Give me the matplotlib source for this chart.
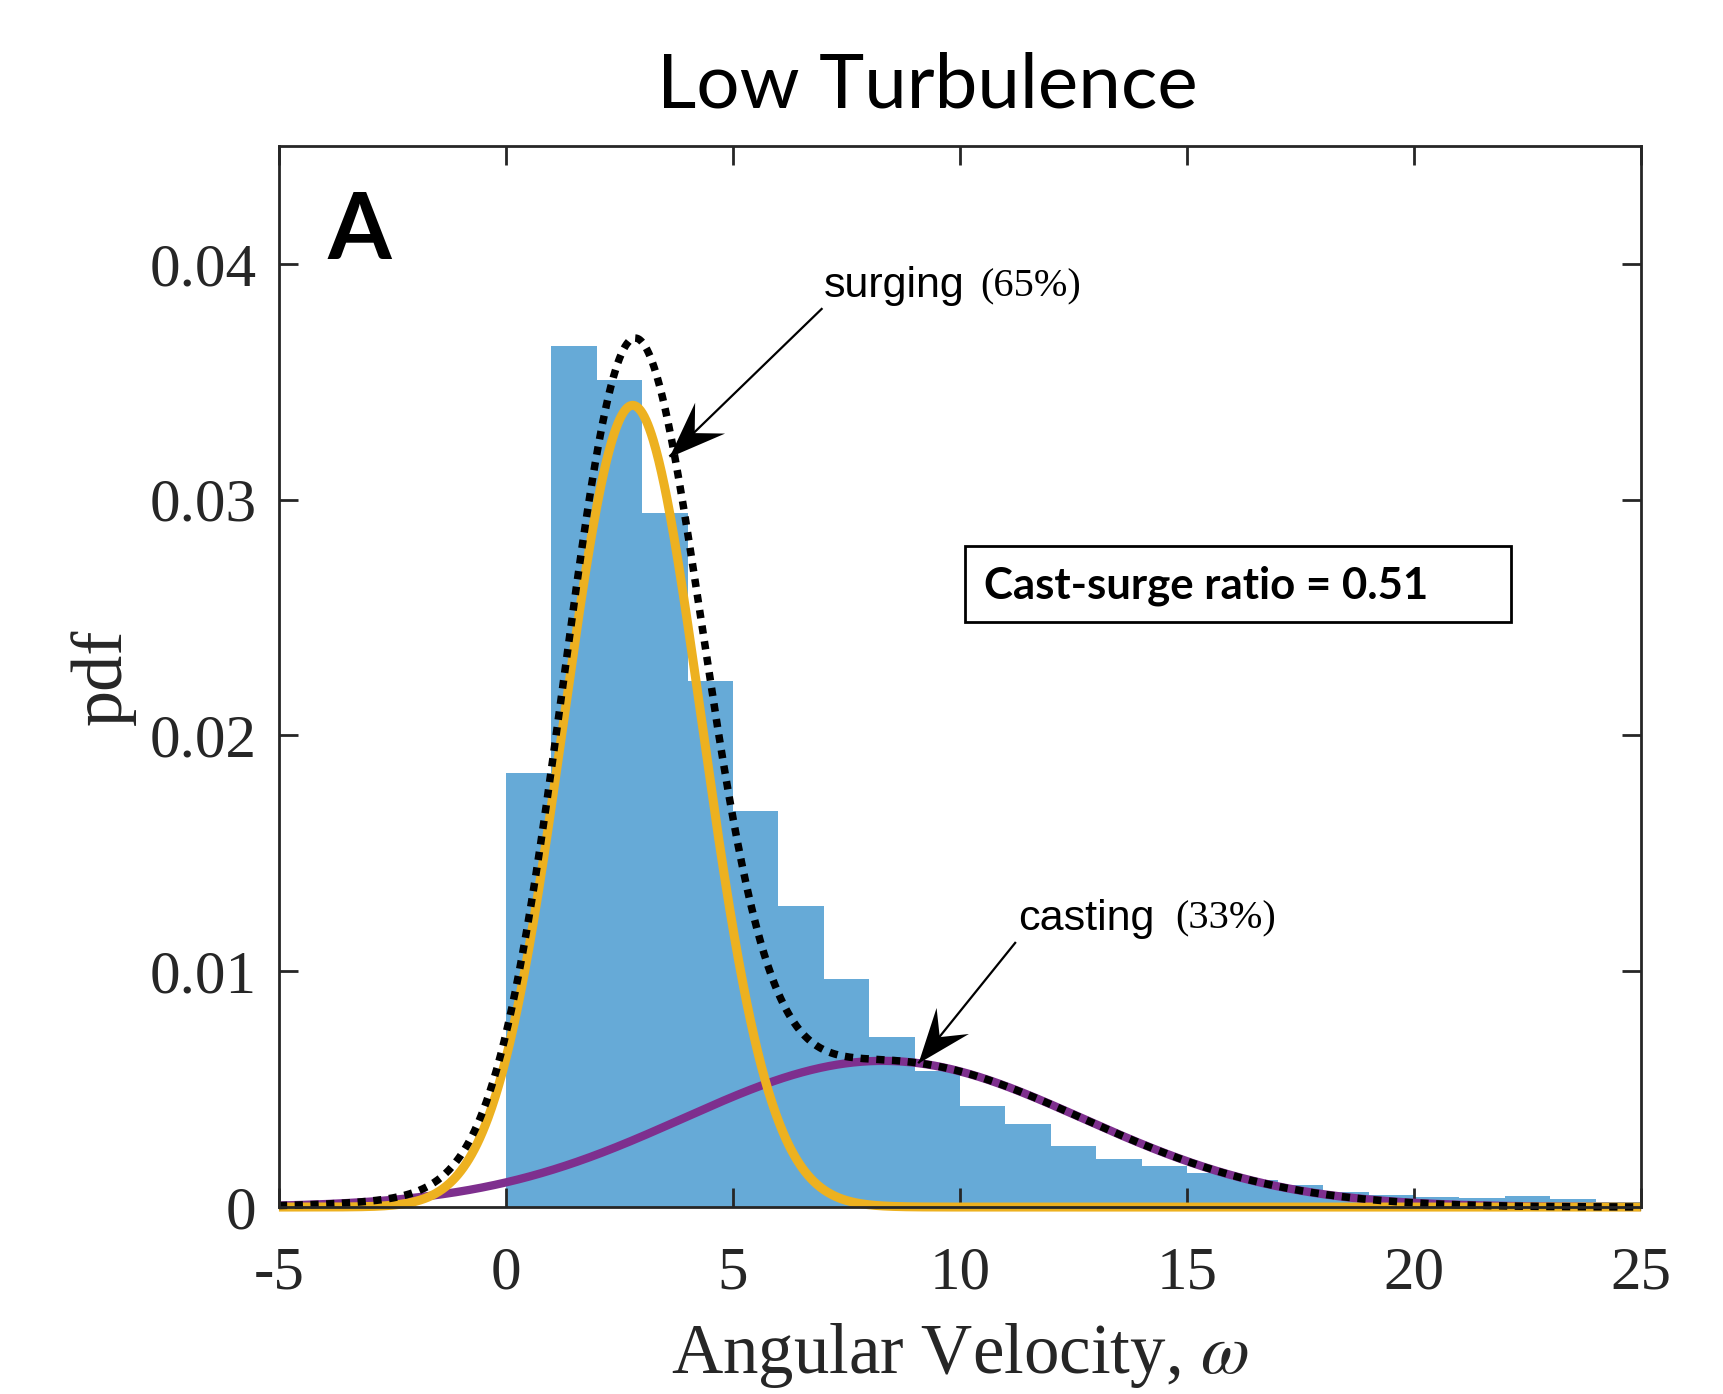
import numpy as np
import matplotlib
matplotlib.use("Agg")
import matplotlib.pyplot as plt
from matplotlib.path import Path
from matplotlib.transforms import Affine2D

# ---------------- data ----------------
bin_left = list(range(0, 25))
bin_height = [0.01839, 0.03650, 0.03509, 0.02944, 0.02231, 0.01679, 0.01277,
              0.00968, 0.00723, 0.00577, 0.00430, 0.00351, 0.00260, 0.00205,
              0.00174, 0.00143, 0.00115, 0.00093, 0.00065, 0.00050, 0.00041,
              0.00037, 0.00047, 0.00034, 0.00022]

# fitted mixture components (Gaussian): mean, sd, peak height
surge_mu, surge_sd, surge_peak = 2.79, 1.52, 0.0340
cast_mu, cast_sd, cast_peak = 8.3, 4.4, 0.0062

xticks = [-5, 0, 5, 10, 15, 20, 25]
yticks = [0, 0.01, 0.02, 0.03, 0.04]
ytick_labels = ["0", "0.01", "0.02", "0.03", "0.04"]

title = "Low Turbulence"
panel = "A"
ratio_text = "Cast-surge ratio = 0.51"

# ---------------- style ----------------
plt.rcParams['mathtext.fontset'] = 'stix'
AX_COL = '#262626'
BAR_COL = '#66aad7'
YEL = '#EDB120'
PUR = '#7E2F8E'

fig = plt.figure(figsize=(17.24, 13.94), dpi=100)
ax = fig.add_axes([0.1618, 0.1341, 0.9519 - 0.1618, 0.8953 - 0.1341])

ax.bar(bin_left, bin_height, width=1.0, align='edge', color=BAR_COL,
       edgecolor='none', linewidth=0, zorder=1)

xs = np.linspace(-5, 25, 1500)
surge = surge_peak * np.exp(-0.5 * ((xs - surge_mu) / surge_sd) ** 2)
cast = cast_peak * np.exp(-0.5 * ((xs - cast_mu) / cast_sd) ** 2)
total = surge + cast

ax.plot(xs, cast, color=PUR, lw=6.0, zorder=2, solid_capstyle='butt',
        clip_on=False)
ax.plot(xs, surge, color=YEL, lw=6.5, zorder=3, solid_capstyle='butt',
        clip_on=False)
ax.plot(xs, total, color='black', lw=5.4, zorder=4,
        linestyle=(0, (1.1, 1.0)), dash_capstyle='butt', clip_on=False)

ax.set_xlim(-5, 25)
ax.set_ylim(0, 0.045)
ax.set_xticks(xticks)
ax.set_xticklabels([str(t) if t >= 0 else '-' + str(-t) for t in xticks])
ax.set_yticks(yticks)
ax.set_yticklabels(ytick_labels)

for sp in ax.spines.values():
    sp.set_color(AX_COL)
    sp.set_linewidth(2.0)
    sp.set_zorder(5)

ax.tick_params(axis='both', which='both', direction='in', top=True, right=True,
               length=14, width=2.0, color=AX_COL, labelcolor=AX_COL,
               labelsize=44)
ax.tick_params(axis='x', pad=28)
ax.tick_params(axis='y', pad=16)
for lab in ax.get_xticklabels() + ax.get_yticklabels():
    lab.set_family('Liberation Serif')

ax.set_xlabel(r'Angular Velocity, $\omega$', family='Liberation Serif',
              fontsize=51, color=AX_COL, labelpad=14)
ax.set_ylabel('pdf', family='Liberation Serif', fontsize=52, color=AX_COL,
              labelpad=10)

fig.text(0.5377, 0.938, title, family='Lato', fontsize=55, ha='center',
         va='center', color='black')

ax.text(-3.92, 0.0413, panel, family='Lato', fontweight='bold', fontsize=66,
        ha='left', va='center', color='black')

# cast-surge ratio box
ax.text(10.53, 0.02634, ratio_text, family='Lato', fontweight='bold',
        fontsize=31.5, ha='left', va='center', color='black', zorder=6)
ax.add_patch(plt.Rectangle((10.11, 0.0248), 22.14 - 10.11, 0.02802 - 0.0248,
                           fill=False, edgecolor='black', lw=2.0, zorder=6))


# annotations with concave (MATLAB-like) arrowheads
def arrow(tip, start):
    ax.plot([start[0], tip[0]], [start[1], tip[1]], color='black', lw=1.6,
            zorder=7, solid_capstyle='butt')
    p0 = ax.transData.transform(start)
    p1 = ax.transData.transform(tip)
    ang = np.degrees(np.arctan2(p1[1] - p0[1], p1[0] - p0[0]))
    verts = [(0, 0), (-1, 0.38), (-0.62, 0), (-1, -0.38), (0, 0)]
    codes = [Path.MOVETO, Path.LINETO, Path.LINETO, Path.LINETO,
             Path.CLOSEPOLY]
    head = Path(verts, codes).transformed(Affine2D().rotate_deg(ang))
    ax.plot([tip[0]], [tip[1]], marker=head, markersize=80, color='black',
            markeredgewidth=0, zorder=8, linestyle='none')


arrow((3.60, 0.03183), (6.97, 0.03812))
ax.text(6.99, 0.03904, 'surging', family='Liberation Sans', fontsize=31,
        ha='left', va='center', color='black')
ax.text(10.44, 0.03904, '(65%)', family='Liberation Serif', fontsize=29,
        ha='left', va='center', color='black')

arrow((9.08, 0.0061), (11.23, 0.01124))
ax.text(11.28, 0.01222, 'casting', family='Liberation Sans', fontsize=31,
        ha='left', va='center', color='black')
ax.text(14.73, 0.01222, '(33%)', family='Liberation Serif', fontsize=29,
        ha='left', va='center', color='black')

fig.savefig('out.png', dpi=100, facecolor='white')
